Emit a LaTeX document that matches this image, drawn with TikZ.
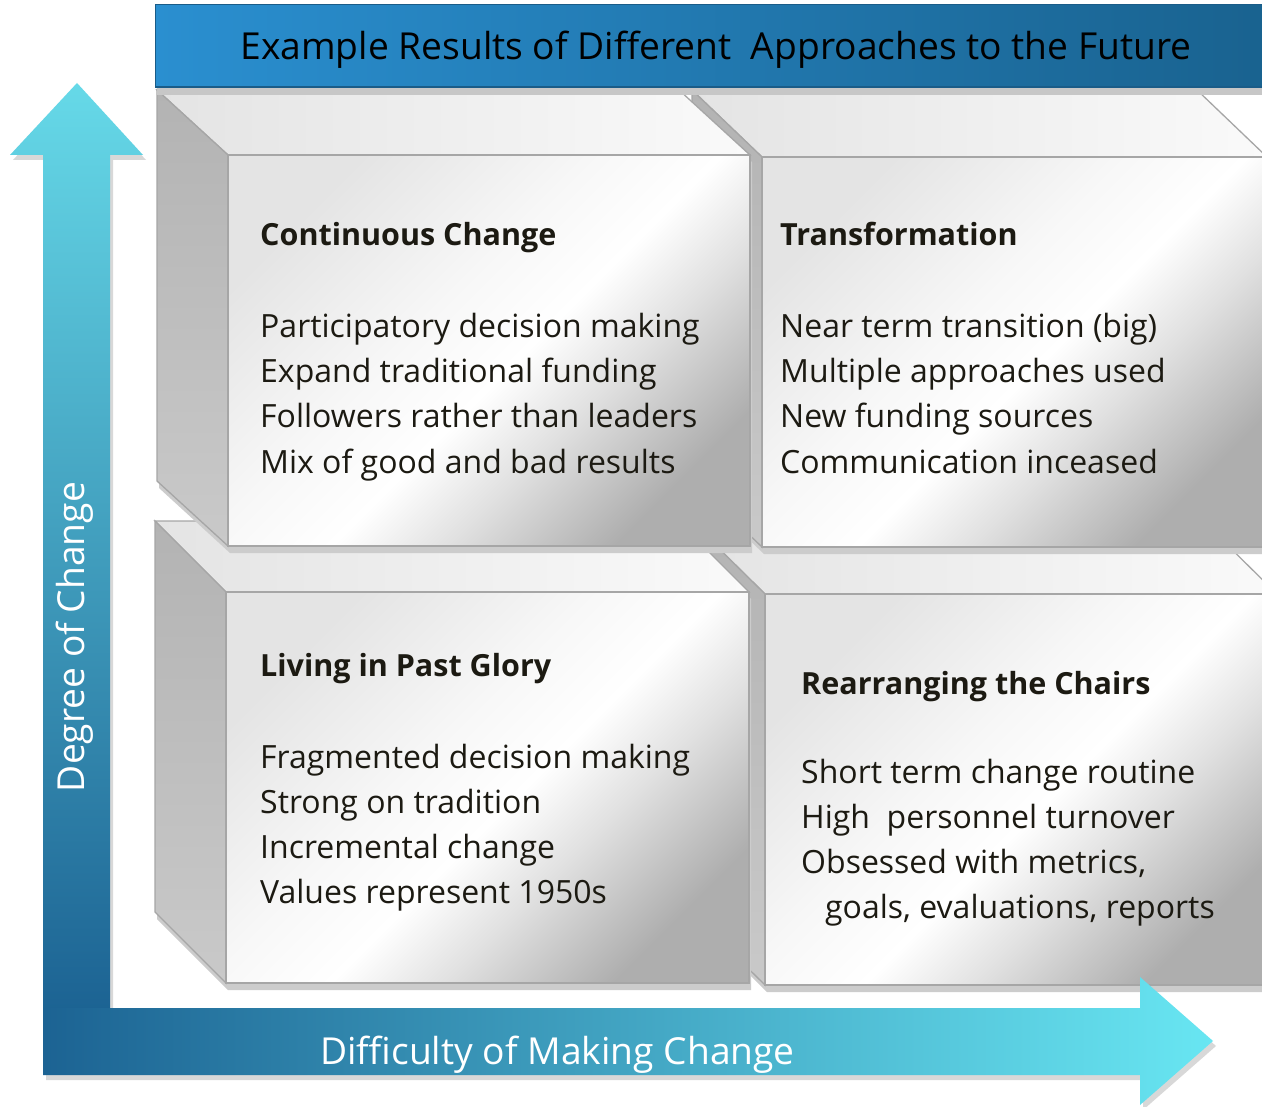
\documentclass[tikz,border=0pt]{standalone}
\usepackage{fontspec}
\setmainfont{Open Sans}
\definecolor{titleL}{HTML}{2A8FD0}
\definecolor{titleM}{HTML}{74ECFA}
\definecolor{titleR}{HTML}{19628F}
\definecolor{titleEdge}{HTML}{1A5C88}
\definecolor{arrDark}{HTML}{1C6393}
\definecolor{arrLight}{HTML}{68E6F2}
\definecolor{arrTop}{HTML}{66D9E8}
\definecolor{frontT}{HTML}{E4E4E4}
\definecolor{frontB}{HTML}{AEAEAE}
\definecolor{sideT}{HTML}{B3B3B3}
\definecolor{sideB}{HTML}{C9C9C9}
\definecolor{topL}{HTML}{E4E4E4}
\definecolor{topR}{HTML}{FAFAFA}
\definecolor{edgeC}{HTML}{A6A6A6}
\definecolor{txtC}{HTML}{1C1A12}
\pgfdeclareverticalshading{frontface}{100bp}{color(0bp)=(frontB); color(25bp)=(frontB); color(38bp)=(black!12); color(47bp)=(white); color(57bp)=(white!97!black); color(75bp)=(frontT); color(100bp)=(frontT)}
\tikzset{
  boxshadow/.style={fill=black!20},
  faceedge/.style={draw=edgeC, line width=1.3pt},
  headtxt/.style={anchor=base west, inner sep=0pt, text=txtC, font=\fontsize{30.5}{36}\selectfont\bfseries},
  bodytxt/.style={anchor=base west, inner sep=0pt, text=txtC, font=\fontsize{32}{38}\selectfont},
  axistxt/.style={inner sep=0pt, text=white, font=\fontsize{37.2}{44}\selectfont},
}
\newcommand\mycube[6]{%
  \fill[boxshadow] ({#1-#5+2},{#2-#6+7}) -- ({#3-#5+2},{#2-#6+7}) -- ({#3+2},{#2+7}) -- ({#3+2},{#4+7}) -- ({#1+2},{#4+7}) -- ({#1-#5+2},{#4-#6+7}) -- cycle;
  \shade[left color=topL, right color=topR, faceedge] ({#1-#5},{#2-#6}) -- ({#3-#5},{#2-#6}) -- (#3,#2) -- (#1,#2) -- cycle;
  \shade[top color=sideT, bottom color=sideB, faceedge] ({#1-#5},{#2-#6}) -- (#1,#2) -- (#1,#4) -- ({#1-#5},{#4-#6}) -- cycle;
  \shade[shading=frontface, shading angle=45, faceedge] (#1,#2) rectangle (#3,#4);
}
\begin{document}
\begin{tikzpicture}[x=1pt,y=-1pt]
\useasboundingbox (0,0) rectangle (1262,1107);
\clip (0,0) rectangle (1262,1107);
\fill[white] (0,0) rectangle (1262,1107);

% boxes: bottom row first, right before left
\mycube{765}{594}{1277}{985}{70}{69}
\mycube{226}{592}{749}{983}{71}{71}
\mycube{762}{157}{1267}{547}{70}{67}
\mycube{228}{155}{750}{546}{71}{65}

% title bar
\fill[black!22] (157,88) rectangle (1270,95);
\shade[left color=titleL, middle color=titleM, right color=titleR, draw=titleEdge, line width=1pt] (155,5) rectangle (1275,88);
\draw[titleEdge, line width=2.5pt] (155,87) -- (1275,87);
\node[anchor=base, inner sep=0pt, font=\fontsize{37.2}{44}\selectfont] (title) at (716,60) {Example Results of Different~~Approaches to the Future};

% texts
\node[headtxt] (tlh) at (260,246) {Continuous Change};
\node[bodytxt] (tl1) at (260,338) {Participatory decision making};
\node[bodytxt] (tl2) at (260,383) {Expand traditional funding};
\node[bodytxt] (tl3) at (260,428) {Followers rather than leaders};
\node[bodytxt] (tl4) at (260,473) {Mix of good and bad results};

\node[headtxt] (trh) at (780,246) {Transformation};
\node[bodytxt] (tr1) at (780,338) {Near term transition (big)};
\node[bodytxt] (tr2) at (780,383) {Multiple approaches used};
\node[bodytxt] (tr3) at (780,428) {New funding sources};
\node[bodytxt] (tr4) at (780,473) {Communication inceased};

\node[headtxt] (blh) at (260,676) {Living in Past Glory};
\node[bodytxt] (bl1) at (260,768) {Fragmented decision making};
\node[bodytxt] (bl2) at (260,813) {Strong on tradition};
\node[bodytxt] (bl3) at (260,858) {Incremental change};
\node[bodytxt] (bl4) at (260,903) {Values represent 1950s};

\node[headtxt] (brh) at (801,694) {Rearranging the Chairs};
\node[bodytxt] (br1) at (801,783) {Short term change routine};
\node[bodytxt] (br2) at (801,828) {High~~personnel turnover};
\node[bodytxt] (br3) at (801,873) {Obsessed with metrics,};
\node[bodytxt] (br4) at (825,918) {goals, evaluations, reports};

% axis arrows with shadows
\fill[black!30, opacity=0.5] (46,1013) -- (46,160) -- (13,160) -- (80,88) -- (146,160) -- (113,160) -- (113,1013) -- cycle;
\fill[black!30, opacity=0.5] (46,1013) -- (1143,1013) -- (1143,982) -- (1216,1046) -- (1143,1110) -- (1143,1080) -- (46,1080) -- cycle;
\shade[top color=arrTop, bottom color=arrDark] (43,1010) -- (43,155) -- (10,155) -- (77,83) -- (143,155) -- (110,155) -- (110,1010) -- cycle;
\shade[left color=arrDark, right color=arrLight] (43,1008) -- (1140,1008) -- (1140,977) -- (1213,1041) -- (1140,1105) -- (1140,1075) -- (43,1075) -- cycle;

\node[axistxt, anchor=base, rotate=90] (ylab) at (84,637) {Degree of Change};
\node[axistxt, anchor=base west] (xlab) at (320,1064) {Difficulty of Making Change};
\end{tikzpicture}
\end{document}
